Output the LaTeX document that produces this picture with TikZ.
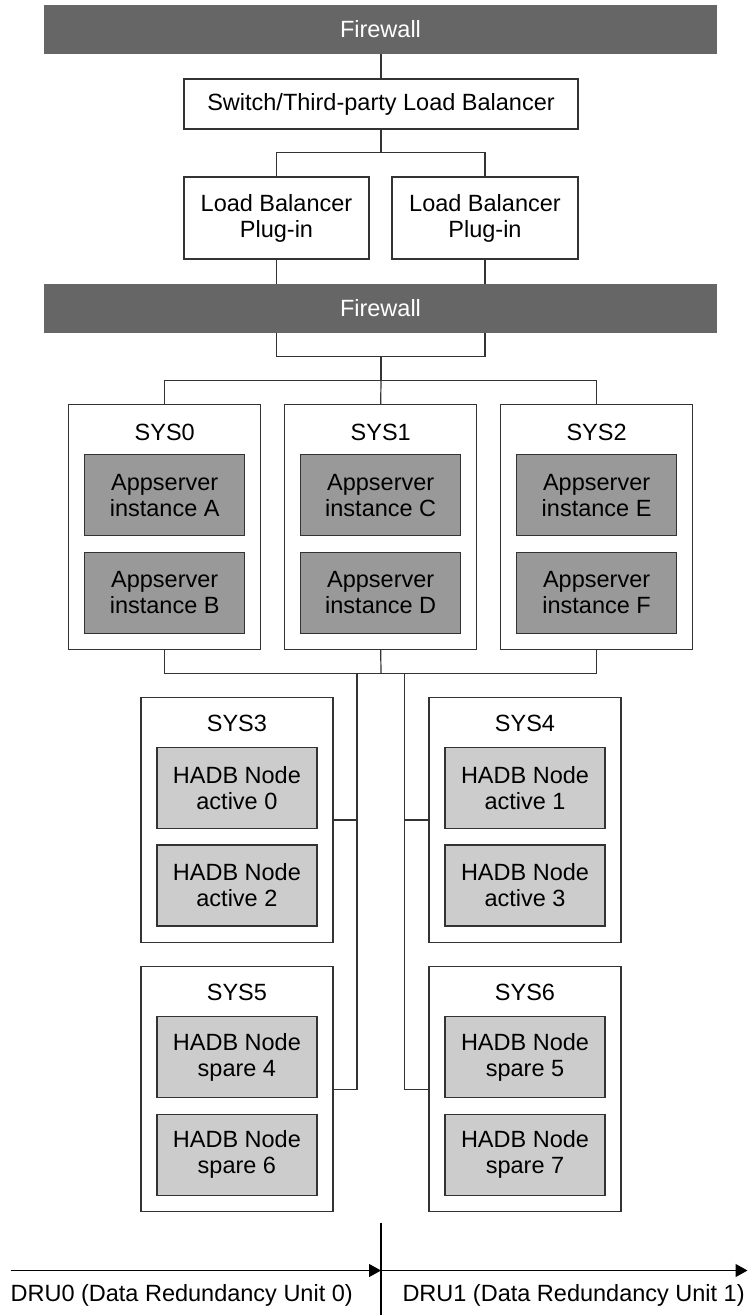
\documentclass[tikz,border=0pt]{standalone}
\usepackage{fontspec}
\setmainfont{Liberation Sans}
\usetikzlibrary{arrows.meta}
\definecolor{fwgray}{HTML}{666666}
\definecolor{appgray}{HTML}{999999}
\definecolor{hadbgray}{HTML}{CCCCCC}
\definecolor{edge}{HTML}{333333}
\begin{document}
\begin{tikzpicture}[x=1pt,y=-1pt,
  every node/.style={font=\fontsize{23.5}{26}\selectfont, inner sep=0pt, outer sep=0pt},
  conn/.style={draw=edge, line width=1.2pt},
  fwband/.style={fill=fwgray, text=white, minimum width=673pt, minimum height=49pt},
  wbox/.style={draw=edge, line width=1.2pt, fill=white, align=center},
  sysbox/.style={draw=edge, line width=1.2pt, fill=white, minimum width=192pt, minimum height=245pt},
  appbox/.style={draw=edge, line width=1.2pt, fill=appgray, align=center, minimum width=160pt, minimum height=81pt},
  hadbbox/.style={draw=edge, line width=1.2pt, fill=hadbgray, align=center, minimum width=160pt, minimum height=81pt},
  arr/.style={draw=black, line width=1.2pt, -{Triangle[length=12pt,width=13pt]}}
]
\useasboundingbox (0,0) rectangle (753,1315);

% firewalls, switch, plug-ins
\node[fwband] (fw1) at (380.5,29.5) {Firewall};
\node[wbox, minimum width=394pt, minimum height=50pt] (sw) at (381,104) {Switch/Third-party Load Balancer};
\node[wbox, minimum width=185pt, minimum height=82pt] (lb1) at (276.5,218) {Load Balancer\\Plug-in};
\node[wbox, minimum width=186pt, minimum height=82pt] (lb2) at (485,218) {Load Balancer\\Plug-in};
\node[fwband] (fw2) at (380.5,308) {Firewall};

% application tier
\node[sysbox] (s0) at (164.7,526.8) {};
\node[sysbox] (s1) at (380.7,526.8) {};
\node[sysbox] (s2) at (596.6,526.8) {};
\node (s0lab) at ([yshift=-28pt]s0.north) {SYS0};
\node (s1lab) at ([yshift=-28pt]s1.north) {SYS1};
\node (s2lab) at ([yshift=-28pt]s2.north) {SYS2};
\node[appbox] (iA) at ([yshift=-91pt]s0.north) {Appserver\\instance A};
\node[appbox] (iB) at ([yshift=-188.5pt]s0.north) {Appserver\\instance B};
\node[appbox] (iC) at ([yshift=-91pt]s1.north) {Appserver\\instance C};
\node[appbox] (iD) at ([yshift=-188.5pt]s1.north) {Appserver\\instance D};
\node[appbox] (iE) at ([yshift=-91pt]s2.north) {Appserver\\instance E};
\node[appbox] (iF) at ([yshift=-188.5pt]s2.north) {Appserver\\instance F};

% HADB tier
\node[sysbox] (s3) at (236.9,820) {};
\node[sysbox] (s4) at (525,820) {};
\node[sysbox] (s5) at (236.9,1089.2) {};
\node[sysbox] (s6) at (525,1089.2) {};
\node (s3lab) at ([yshift=-26pt]s3.north) {SYS3};
\node (s4lab) at ([yshift=-26pt]s4.north) {SYS4};
\node (s5lab) at ([yshift=-26pt]s5.north) {SYS5};
\node (s6lab) at ([yshift=-26pt]s6.north) {SYS6};
\node[hadbbox] (h0) at ([yshift=-90.5pt]s3.north) {HADB Node\\active 0};
\node[hadbbox] (h2) at ([yshift=-188pt]s3.north) {HADB Node\\active 2};
\node[hadbbox] (h1) at ([yshift=-90.5pt]s4.north) {HADB Node\\active 1};
\node[hadbbox] (h3) at ([yshift=-188pt]s4.north) {HADB Node\\active 3};
\node[hadbbox] (h4) at ([yshift=-90.5pt]s5.north) {HADB Node\\spare 4};
\node[hadbbox] (h6) at ([yshift=-188pt]s5.north) {HADB Node\\spare 6};
\node[hadbbox] (h5) at ([yshift=-90.5pt]s6.north) {HADB Node\\spare 5};
\node[hadbbox] (h7) at ([yshift=-188pt]s6.north) {HADB Node\\spare 7};

% junction points
\coordinate (j1) at (381,152.7);
\coordinate (j2) at (381,356.7);
\coordinate (j3) at (381,380.3);
\coordinate (j4) at (381,673.3);
\coordinate (l1) at (357,673.3);
\coordinate (r1) at (404.6,673.3);

% connectors
\draw[conn] (sw.north) -- (sw.north |- fw1.south);
\draw[conn] (sw.south) -- (j1);
\draw[conn] (lb1.north) |- (j1) -| (lb2.north);
\draw[conn] (lb1.south) -- (lb1.south |- fw2.north);
\draw[conn] (lb2.south) -- (lb2.south |- fw2.north);
\draw[conn] (lb1.south |- fw2.south) |- (j2) -| (lb2.south |- fw2.south);
\draw[conn] (j2) -- (j3);
\draw[conn] (s0.north) |- (j3) -| (s2.north);
\draw[conn] (j3) -- (s1.north);
\draw[conn] (s0.south) |- (j4) -| (s2.south);
\draw[conn] (s1.south) -- (j4);
\draw[conn] (l1) |- (s5.east);
\draw[conn] (s3.east) -- (s3.east -| l1);
\draw[conn] (r1) |- (s6.west);
\draw[conn] (s4.west) -- (s4.west -| r1);

% data redundancy units
\coordinate (dtop) at (381,1222.7);
\coordinate (dbot) at (381,1315);
\coordinate (a0) at (10.6,1270.5);
\coordinate (a1) at (747.5,1270.5);
\draw[conn, draw=black] (dtop) -- (dbot);
\draw[arr] (a0) -- (a0 -| dtop);
\draw[arr] (a0 -| dtop) -- (a1);
\node[anchor=west] (dru0) at (10.6,1295) {DRU0 (Data Redundancy Unit 0)};
\node[anchor=west] (dru1) at (402.5,1295) {DRU1 (Data Redundancy Unit 1)};
\end{tikzpicture}
\end{document}
